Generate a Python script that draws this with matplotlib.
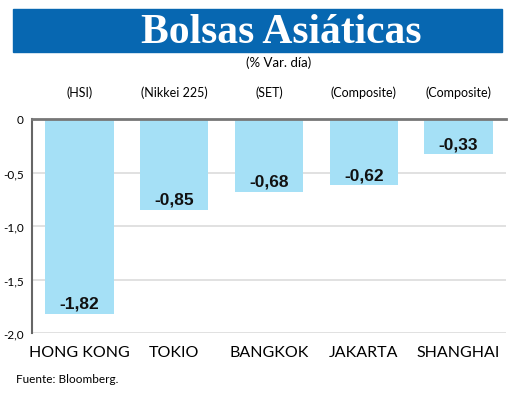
import matplotlib.pyplot as plt
from matplotlib.patches import Rectangle

# Datos
plazas = ['HONG KONG', 'TOKIO', 'BANGKOK', 'JAKARTA', 'SHANGHAI']
indices = ['(HSI)', '(Nikkei 225)', '(SET)', '(Composite)', '(Composite)']
variacion = [-1.82, -0.85, -0.68, -0.62, -0.33]
yticks = [0, -0.5, -1.0, -1.5, -2.0]
ytick_labels = ['0', '-0,5', '-1,0', '-1,5', '-2,0']

narrow = 'Lato'

W, H = 520, 402
fig = plt.figure(figsize=(W / 100, H / 100), dpi=100)


def px(x, y):
    # pixeles de la imagen -> fraccion de figura
    return x / W, 1 - y / H


# Banda del titulo
fig.patches.append(Rectangle(px(13, 53), (502 - 13) / W, (53 - 10) / H,
                             transform=fig.transFigure, color='#0767b1', zorder=0))
fig.text(*px(281, 33), 'Bolsas Asiáticas', color='white', fontsize=30,
         fontweight='bold', family='Liberation Serif', ha='center', va='center')
fig.text(*px(279, 63), '(% Var. día)', fontsize=9.5, family=narrow,
         ha='center', va='center')

l, b = px(32, 334)
r, t = px(506, 120)
ax = fig.add_axes([l, b, r - l, t - b])

x = list(range(len(plazas)))
ax.bar(x, variacion, width=0.72, color='#a5e0f6', zorder=2)
for xi, v in zip(x, variacion):
    ax.text(xi, v + 0.1, f'{v:.2f}'.replace('.', ','), ha='center', va='center',
            fontsize=12.5, fontweight='bold', family='Liberation Sans',
            color='#111111', zorder=3)

ax.set_xlim(-0.5, 4.5)
ax.set_ylim(-2.0, 0)
for yv in yticks[1:]:
    ax.axhline(yv, color='#dcdcdc', lw=1.2, zorder=1)
ax.axhline(0, color='#777777', lw=2, zorder=4, clip_on=False)

ax.set_yticks(yticks)
ax.set_yticklabels(ytick_labels, family=narrow, fontsize=8.5)
ax.set_xticks(x)
ax.set_xticklabels(plazas, family=narrow, fontsize=11.5)
ax.tick_params(axis='y', length=0, pad=6)
ax.tick_params(axis='x', length=0, pad=9)
for s in ['top', 'right', 'bottom']:
    ax.spines[s].set_visible(False)
ax.spines['left'].set_color('#666666')
ax.spines['left'].set_linewidth(1.5)

for xi, nom in zip(x, indices):
    ax.annotate(nom, (xi, 0), xytext=(0, 19.5), textcoords='offset points',
                ha='center', va='center', fontsize=9, family=narrow)

fig.text(*px(16, 380), 'Fuente: Bloomberg.', fontsize=8.5, family=narrow,
         ha='left', va='center')

fig.savefig('out.png', dpi=100)
